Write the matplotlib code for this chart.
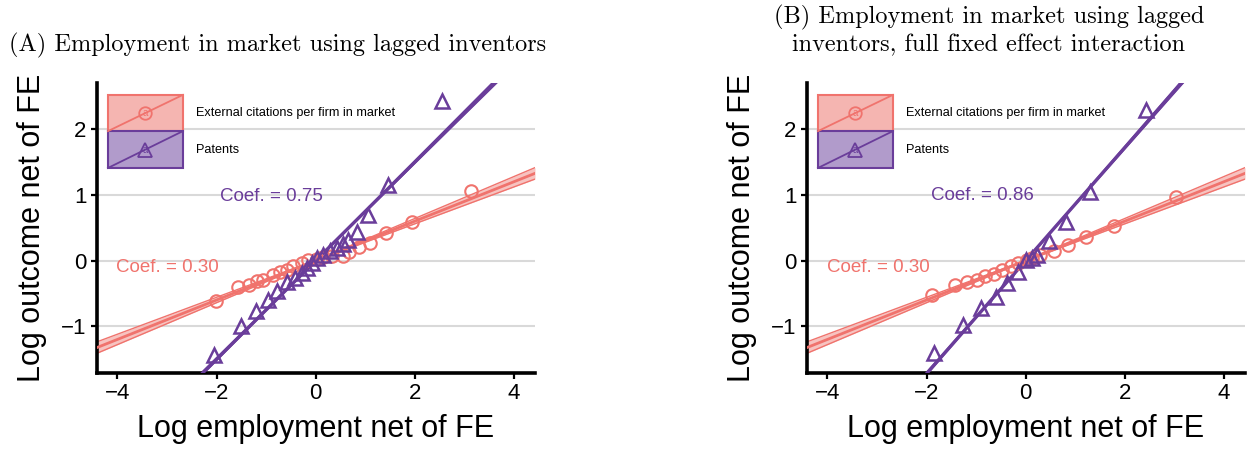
import numpy as np
import matplotlib
matplotlib.use("Agg")
import matplotlib.pyplot as plt
from matplotlib.patches import Rectangle
from matplotlib.lines import Line2D

SALMON = "#F0736D"
PURPLE = "#6A3D9A"
SALMON_FILL = "#F5B5B1"
PURPLE_FILL = "#B19BCB"

# ---- Panel A: employment in market using lagged inventors ----
a_cit_x = [-2.01, -1.56, -1.34, -1.19, -1.06, -0.87, -0.72, -0.58, -0.45, -0.28,
           -0.15, 0.02, 0.15, 0.32, 0.54, 0.68, 0.88, 1.09, 1.42, 1.94, 3.13]
a_cit_y = [-0.62, -0.40, -0.37, -0.31, -0.29, -0.22, -0.18, -0.14, -0.08, -0.04,
           0.01, 0.03, 0.05, 0.07, 0.07, 0.13, 0.21, 0.27, 0.42, 0.58, 1.06]
a_pat_x = [-2.05, -1.51, -1.21, -0.96, -0.79, -0.58, -0.42, -0.28, -0.18, -0.08,
           0.02, 0.15, 0.29, 0.42, 0.54, 0.66, 0.83, 1.06, 1.45, 2.54]
a_pat_y = [-1.43, -1.00, -0.76, -0.60, -0.46, -0.32, -0.27, -0.19, -0.12, -0.04,
           0.04, 0.09, 0.14, 0.19, 0.25, 0.31, 0.44, 0.69, 1.15, 2.42]
a_coef = {"cit": 0.30, "pat": 0.75}

# ---- Panel B: full fixed effect interaction ----
b_cit_x = [-1.90, -1.43, -1.19, -0.99, -0.82, -0.65, -0.48, -0.30, -0.15, 0.02,
           0.12, 0.29, 0.56, 0.86, 1.22, 1.77, 3.03]
b_cit_y = [-0.52, -0.37, -0.32, -0.29, -0.24, -0.20, -0.15, -0.08, -0.03, 0.01,
           0.04, 0.09, 0.15, 0.24, 0.36, 0.53, 0.96]
b_pat_x = [-1.84, -1.26, -0.90, -0.60, -0.37, -0.15, 0.00, 0.12, 0.22, 0.46,
           0.81, 1.30, 2.42]
b_pat_y = [-1.40, -0.98, -0.72, -0.55, -0.34, -0.18, 0.01, 0.04, 0.09, 0.30,
           0.58, 1.05, 2.29]
b_coef = {"cit": 0.30, "pat": 0.86}

# standard errors of the fitted lines (intercept, slope)
se_fit = {"cit": (0.005, 0.010), "pat": (0.004, 0.005)}

x_ticks = [-4, -2, 0, 2, 4]
y_ticks = [-1, 0, 1, 2]
xlim = (-4.41, 4.42)
ylim = (-1.71, 2.70)

legend_labels = ["External citations per firm in market", "Patents"]

SANS = ["Liberation Sans", "DejaVu Sans"]

fig = plt.figure(figsize=(12.52, 4.49), dpi=100)
W, H = 1252, 449


def fit_band(ax, slope, se, color, fill, lw):
    xs = np.linspace(xlim[0], xlim[1], 200)
    yhat = slope * xs
    half = 1.96 * np.sqrt(se[0] ** 2 + (se[1] * xs) ** 2)
    ax.fill_between(xs, yhat - half, yhat + half, color=fill, alpha=0.8,
                    lw=0, zorder=2)
    ax.plot(xs, yhat - half, color=color, lw=1.0, zorder=2)
    ax.plot(xs, yhat + half, color=color, lw=1.0, zorder=2)
    ax.plot(xs, yhat, color=color, lw=lw, zorder=3)


def draw_legend(ax):
    kx0, kx1 = 0.025, 0.196
    rows = [(0.834, 0.959), (0.707, 0.834)]
    styles = [(SALMON, SALMON_FILL, "o"), (PURPLE, PURPLE_FILL, "^")]
    for (y0, y1), (col, fil, mk), lab in zip(rows, styles, legend_labels):
        ax.add_patch(Rectangle((kx0, y0), kx1 - kx0, y1 - y0,
                               transform=ax.transAxes, facecolor=fil,
                               edgecolor=col, lw=1.5, zorder=6,
                               clip_on=False))
        ax.add_line(Line2D([kx0, kx1], [y0, y1], transform=ax.transAxes,
                           color=col, lw=1.3, zorder=7, clip_on=False))
        xc, yc = (kx0 + kx1) / 2, (y0 + y1) / 2
        ax.plot([xc], [yc], marker=mk, ms=9 if mk == "o" else 10,
                mfc="none", mec=col, mew=1.3, transform=ax.transAxes,
                zorder=8, clip_on=False)
        ax.text(xc, yc, "a", color=col, fontsize=7, ha="center",
                va="center", transform=ax.transAxes, zorder=8,
                family=SANS)
        ax.text(0.226, yc, lab, transform=ax.transAxes, fontsize=9.1,
                ha="left", va="center", family=SANS, color="black",
                zorder=8)


def panel(left_px, cit_x, cit_y, pat_x, pat_y, coef, coef_pos):
    ax = fig.add_axes([left_px / W, (H - 373) / H, 438 / W, 290 / H])
    ax.set_xlim(*xlim)
    ax.set_ylim(*ylim)
    ax.set_xticks(x_ticks)
    ax.set_yticks(y_ticks)
    ax.yaxis.grid(True, color="#D9D9D9", lw=1.5, zorder=0)
    ax.set_axisbelow(True)
    for s in ("top", "right"):
        ax.spines[s].set_visible(False)
    for s in ("left", "bottom"):
        ax.spines[s].set_linewidth(2.6)
        ax.spines[s].set_color("black")
    ax.tick_params(direction="out", length=4.5, width=1.6, colors="black",
                   labelsize=16, pad=3)
    for lab in ax.get_xticklabels() + ax.get_yticklabels():
        lab.set_family(SANS)

    fit_band(ax, coef["cit"], se_fit["cit"], SALMON, SALMON_FILL, 2.0)
    fit_band(ax, coef["pat"], se_fit["pat"], PURPLE, PURPLE_FILL, 2.4)

    ax.plot(cit_x, cit_y, ls="none", marker="o", ms=9, mfc="none",
            mec=SALMON, mew=1.5, zorder=4)
    ax.plot(pat_x, pat_y, ls="none", marker="^", ms=10.5, mfc="none",
            mec=PURPLE, mew=1.8, zorder=5)

    ax.text(coef_pos["pat"][0], coef_pos["pat"][1],
            f"Coef. = {coef['pat']:.2f}", color=PURPLE, fontsize=13.5,
            ha="center", va="center", family=SANS, zorder=6)
    ax.text(coef_pos["cit"][0], coef_pos["cit"][1],
            f"Coef. = {coef['cit']:.2f}", color=SALMON, fontsize=13.5,
            ha="center", va="center", family=SANS, zorder=6)

    draw_legend(ax)

    ax.set_xlabel("Log employment net of FE", fontsize=22, family=SANS,
                  labelpad=7)
    ax.set_ylabel("Log outcome net of FE", fontsize=22, family=SANS,
                  labelpad=10)
    return ax


panel(97, a_cit_x, a_cit_y, a_pat_x, a_pat_y, a_coef,
      {"pat": (-0.89, 0.98), "cit": (-3.0, -0.10)})
panel(807, b_cit_x, b_cit_y, b_pat_x, b_pat_y, b_coef,
      {"pat": (-0.88, 0.99), "cit": (-2.98, -0.11)})

fig.text(278 / W, 1 - 45 / H, "(A) Employment in market using lagged inventors",
         ha="center", va="center", family="cmr10", fontsize=17.5)
fig.text(989 / W, 1 - 17 / H, "(B) Employment in market using lagged",
         ha="center", va="center", family="cmr10", fontsize=17.5)
fig.text(989 / W, 1 - 45 / H, "inventors, full fixed effect interaction",
         ha="center", va="center", family="cmr10", fontsize=17.5)

fig.savefig("out.png", dpi=100)
